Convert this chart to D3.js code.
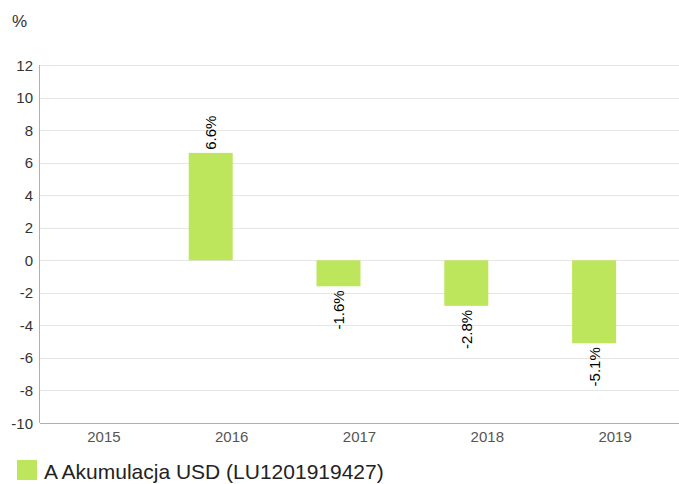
<!DOCTYPE html>
<html>
<head>
<meta charset="utf-8">
<script src="https://cdn.jsdelivr.net/npm/d3@7"></script>
<style>
  body { margin: 0; background: #fff; }
  svg { display: block; font-family: "Liberation Sans", Arial, sans-serif; }
</style>
</head>
<body>
<svg id="chart" width="679" height="484"></svg>
<script>
// chart data
const years = ['2015', '2016', '2017', '2018', '2019'];
const returns = [null, 6.6, -1.6, -2.8, -5.1];
const yTicks = [-10, -8, -6, -4, -2, 0, 2, 4, 6, 8, 10, 12];
const seriesName = 'A Akumulacja USD (LU1201919427)';

const width = 679, height = 484;
const plotLeft = 40, plotRight = 679, plotTop = 65, plotBottom = 423;
const barColor = '#bde65c';

const svg = d3.select('#chart');

const x = d3.scaleBand().domain(years).range([plotLeft, plotRight]);
const y = d3.scaleLinear().domain([-10, 12]).range([plotBottom, plotTop]);

// Gridlines
svg.append('g')
  .selectAll('line')
  .data(yTicks)
  .enter()
  .append('line')
  .attr('x1', plotLeft)
  .attr('x2', plotRight)
  .attr('y1', d => Math.round(y(d)) + 0.5)
  .attr('y2', d => Math.round(y(d)) + 0.5)
  .attr('stroke', '#e6e6e6')
  .attr('stroke-width', 1);

// Y axis labels
svg.append('g')
  .selectAll('text')
  .data(yTicks)
  .enter()
  .append('text')
  .attr('x', 33)
  .attr('y', d => y(d) + 5.5)
  .attr('text-anchor', 'end')
  .attr('font-size', 15)
  .attr('fill', '#333')
  .text(d => d);

// Axis lines
svg.append('line')
  .attr('x1', plotLeft - 0.5).attr('x2', plotLeft - 0.5)
  .attr('y1', plotTop).attr('y2', plotBottom)
  .attr('stroke', '#b0b0b0');
svg.append('line')
  .attr('x1', plotLeft).attr('x2', plotRight)
  .attr('y1', plotBottom + 0.5).attr('y2', plotBottom + 0.5)
  .attr('stroke', '#b0b0b0');

// "%" unit label
svg.append('text')
  .attr('x', 12)
  .attr('y', 27)
  .attr('font-size', 17)
  .attr('fill', '#333')
  .text('%');

// X axis labels
svg.append('g')
  .selectAll('text')
  .data(years)
  .enter()
  .append('text')
  .attr('x', d => x(d) + x.bandwidth() / 2)
  .attr('y', 442)
  .attr('text-anchor', 'middle')
  .attr('font-size', 15)
  .attr('fill', '#555')
  .text(d => d);

// Bars sit left of the category centre
const barW = 44;
const barOffset = -21;
const data = years.map((yr, i) => ({ year: yr, value: returns[i] })).filter(d => d.value != null);
const barX = d => x(d.year) + x.bandwidth() / 2 + barOffset - barW / 2;

svg.append('g')
  .selectAll('rect')
  .data(data)
  .enter()
  .append('rect')
  .attr('x', barX)
  .attr('y', d => y(Math.max(0, d.value)))
  .attr('width', barW)
  .attr('height', d => Math.abs(y(d.value) - y(0)))
  .attr('fill', barColor);

// Rotated value labels
svg.append('g')
  .selectAll('text')
  .data(data)
  .enter()
  .append('text')
  .attr('transform', d => {
    const cx = barX(d) + barW / 2 + 5.5;
    const cy = d.value >= 0 ? y(d.value) - 3 : y(d.value) + 4;
    return `translate(${cx},${cy}) rotate(-90)`;
  })
  .attr('text-anchor', d => d.value >= 0 ? 'start' : 'end')
  .attr('font-size', 15)
  .attr('fill', '#000')
  .text(d => d.value.toFixed(1) + '%');

// Legend
svg.append('rect')
  .attr('x', 17)
  .attr('y', 460)
  .attr('width', 20)
  .attr('height', 20)
  .attr('fill', barColor);
svg.append('text')
  .attr('x', 44)
  .attr('y', 479)
  .attr('font-size', 21)
  .attr('fill', '#222')
  .text(seriesName);
</script>
</body>
</html>
